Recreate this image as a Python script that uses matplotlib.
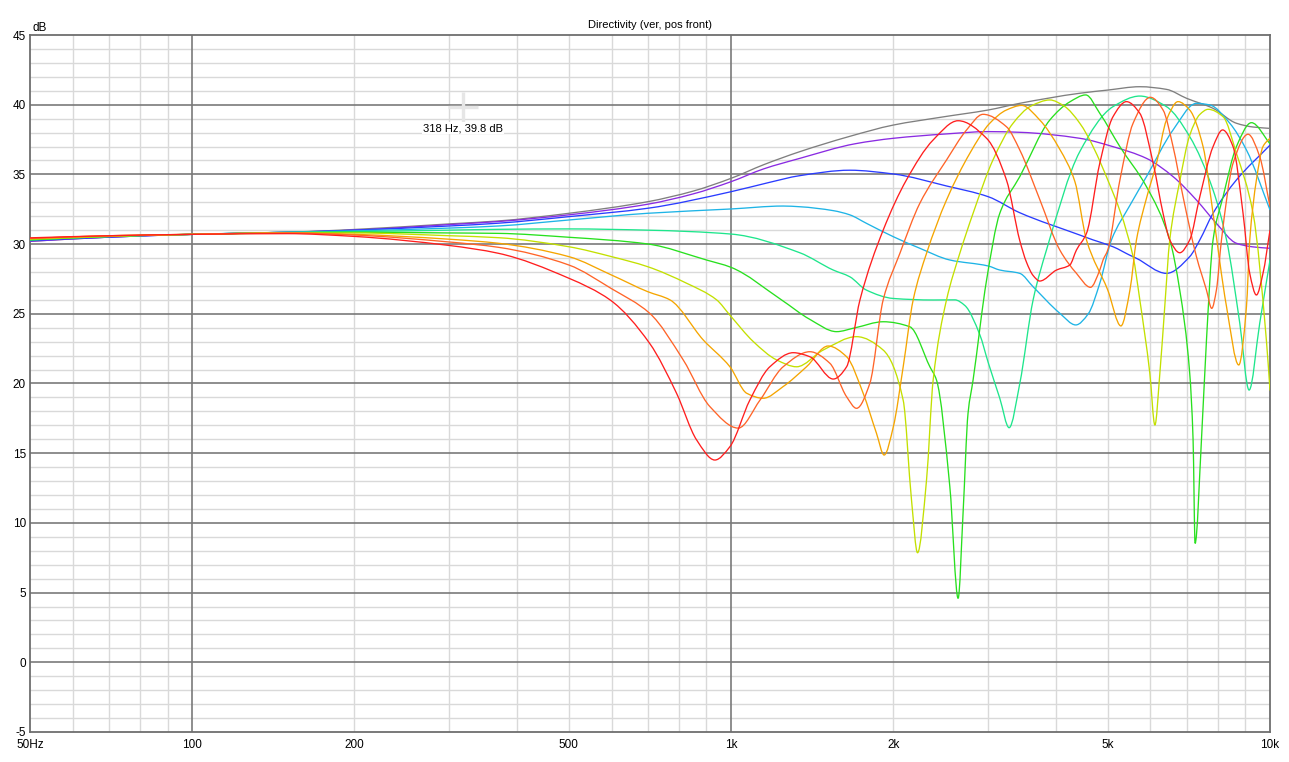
import numpy as np
import matplotlib
matplotlib.use("Agg")
import matplotlib.pyplot as plt
from matplotlib.path import Path
from matplotlib.patches import PathPatch

plt.rcParams['font.family'] = ['Liberation Sans', 'DejaVu Sans']
plt.rcParams['axes.unicode_minus'] = False

# curve data: frequency (Hz) / level (dB), one pair per angle
gray_f = [50, 70, 100, 150, 200, 300, 370, 500, 700, 850, 1000, 1150, 1341, 1650, 2000, 2450, 3000, 3433, 4436, 5000, 5734, 6425, 7000, 7840, 8663, 9300, 10000]
gray_db = [30.2, 30.5, 30.7, 30.85, 31.05, 31.45, 31.66, 32.21, 33.04, 33.8, 34.72, 35.7, 36.63, 37.7, 38.54, 39.1, 39.62, 40.1, 40.82, 41.05, 41.29, 41.1, 40.46, 39.74, 38.67, 38.4, 38.3]

purple_f = [50, 70, 100, 150, 200, 300, 370, 500, 700, 850, 1000, 1150, 1341, 1700, 2000, 2500, 3000, 3433, 4436, 5113, 5899, 6609, 7303, 7953, 8663, 9300, 10000]
purple_db = [30.2, 30.5, 30.7, 30.85, 31.0, 31.4, 31.62, 32.1, 32.86, 33.6, 34.48, 35.4, 36.15, 37.2, 37.59, 37.9, 38.07, 38.02, 37.59, 36.99, 36.15, 34.84, 33.16, 31.49, 30.06, 29.8, 29.7]

blue_f = [50, 70, 100, 150, 200, 300, 370, 500, 700, 1000, 1170, 1341, 1660, 2000, 2510, 3000, 3433, 4436, 4696, 5113, 5496, 5652, 6425, 7096, 7409, 7840, 8663, 10000]
blue_db = [30.25, 30.5, 30.7, 30.85, 31.0, 31.3, 31.5, 31.97, 32.57, 33.76, 34.4, 34.91, 35.3, 35.03, 34.17, 33.4, 32.25, 30.65, 30.3, 29.81, 29.2, 28.98, 27.9, 29.1, 30.3, 32.21, 34.6, 37.1]

cyan_f = [50, 70, 100, 150, 200, 300, 370, 500, 700, 1000, 1249, 1341, 1547, 1660, 1783, 2000, 2240, 2546, 3000, 3152, 3433, 3634, 4073, 4361, 4600, 4832, 5079, 5500, 5899, 6609, 7303, 7732, 8421, 9043, 10000]
cyan_db = [30.3, 30.55, 30.7, 30.85, 30.95, 31.15, 31.3, 31.73, 32.21, 32.52, 32.73, 32.68, 32.4, 32.1, 31.49, 30.53, 29.7, 28.86, 28.43, 28.14, 27.9, 26.94, 25.04, 24.2, 25.0, 27.19, 30.3, 32.8, 34.84, 38.19, 40.1, 39.98, 38.67, 36.75, 32.45]

teal_f = [50, 70, 100, 150, 200, 300, 370, 500, 700, 1000, 1341, 1547, 1660, 1783, 2000, 2371, 2601, 2714, 2894, 3000, 3152, 3280, 3433, 3634, 3848, 4436, 5113, 5734, 6425, 7096, 7840, 8305, 8789, 9145, 9570, 10000]
teal_db = [30.3, 30.55, 30.7, 30.85, 30.9, 31.0, 31.06, 31.09, 31.0, 30.72, 29.38, 28.14, 27.66, 26.7, 26.1, 25.99, 26.0, 25.6, 23.5, 21.5, 18.94, 16.83, 20.0, 25.99, 29.58, 36.63, 39.86, 40.62, 39.86, 37.71, 33.88, 30.3, 24.32, 19.53, 24.32, 28.86]

green_f = [50, 70, 100, 150, 200, 300, 370, 500, 700, 900, 1000, 1240, 1400, 1569, 1700, 1915, 2146, 2338, 2405, 2546, 2638, 2694, 2752, 2812, 2979, 3152, 3433, 3903, 4250, 4551, 4832, 5266, 5899, 6516, 6800, 7096, 7199, 7261, 7461, 7623, 7840, 8184, 8663, 9238, 10000]
green_db = [30.3, 30.55, 30.7, 30.8, 30.85, 30.8, 30.77, 30.49, 30.01, 28.86, 28.33, 26.0, 24.6, 23.72, 24.0, 24.43, 24.07, 21.2, 20.25, 12.6, 4.59, 10.68, 17.86, 20.25, 27.42, 32.21, 34.84, 38.9, 40.2, 40.7, 39.38, 36.99, 34.12, 30.3, 26.7, 20.73, 15.95, 8.53, 15.95, 23.12, 30.3, 33.4, 36.99, 38.71, 37.2]

yg_f = [50, 70, 100, 150, 200, 300, 370, 500, 600, 700, 827, 940, 995, 1100, 1215, 1323, 1482, 1709, 1915, 2086, 2162, 2218, 2305, 2371, 2510, 2657, 2812, 3061, 3336, 3600, 3903, 4150, 4436, 5000, 5571, 5734, 5984, 6115, 6246, 6378, 6516, 6800, 7096, 7409, 7677, 8184, 8663, 9301, 9846, 10000]
yg_db = [30.35, 30.55, 30.7, 30.8, 30.8, 30.6, 30.46, 29.81, 29.1, 28.38, 27.19, 26.0, 24.9, 23.0, 21.69, 21.2, 22.4, 23.36, 22.4, 18.8, 11.6, 7.86, 13.1, 20.25, 25.99, 29.34, 32.21, 36.03, 38.67, 39.9, 40.34, 39.9, 38.67, 34.6, 29.1, 25.99, 20.73, 17.02, 20.73, 25.51, 30.3, 34.5, 37.8, 39.3, 39.67, 39.14, 36.51, 32.21, 23.12, 19.5]

amber_f = [50, 70, 100, 150, 200, 300, 370, 500, 600, 700, 770, 888, 995, 1069, 1147, 1249, 1380, 1514, 1638, 1758, 1861, 1923, 2000, 2086, 2177, 2305, 2510, 2773, 3020, 3243, 3461, 3739, 4073, 4343, 4565, 5000, 5289, 5496, 5652, 5900, 6157, 6425, 6751, 7096, 7513, 7840, 8305, 8750, 9043, 9171, 9436, 9705, 10000]
amber_db = [30.4, 30.6, 30.7, 30.8, 30.7, 30.35, 30.06, 29.1, 27.78, 26.59, 26.0, 23.12, 21.2, 19.3, 18.94, 19.78, 21.2, 22.69, 21.92, 19.3, 16.43, 14.87, 16.9, 21.2, 26.0, 29.34, 33.16, 36.51, 38.67, 39.62, 39.95, 38.9, 36.8, 34.5, 30.3, 26.7, 24.13, 26.7, 30.3, 33.3, 35.8, 38.9, 40.22, 39.62, 36.99, 32.21, 25.51, 21.33, 25.51, 30.3, 34.6, 37.0, 37.6]

orange_f = [50, 70, 100, 150, 200, 300, 370, 500, 600, 706, 815, 913, 1031, 1131, 1249, 1400, 1525, 1638, 1709, 1809, 1915, 2057, 2240, 2510, 2734, 2934, 3243, 3433, 3739, 4073, 4374, 4644, 4832, 4900, 5000, 5266, 5571, 6000, 6332, 6609, 6897, 7303, 7623, 7796, 7953, 8127, 8540, 9105, 9570, 10000]
orange_db = [30.4, 30.6, 30.7, 30.8, 30.65, 30.15, 29.77, 28.5, 26.8, 25.04, 21.69, 18.35, 16.8, 18.8, 21.2, 22.28, 21.45, 19.05, 18.22, 20.01, 26.0, 29.34, 32.93, 36.03, 38.18, 39.31, 38.42, 36.75, 33.2, 29.58, 27.9, 26.9, 28.14, 28.86, 29.58, 34.6, 38.67, 40.53, 39.62, 36.99, 33.4, 29.1, 26.7, 25.39, 26.7, 30.3, 35.8, 37.88, 36.27, 32.69]

red_f = [50, 70, 100, 150, 200, 300, 370, 500, 596, 706, 792, 863, 933, 995, 1083, 1180, 1304, 1400, 1547, 1638, 1734, 1915, 2115, 2371, 2638, 2979, 3243, 3433, 3533, 3634, 3739, 4016, 4251, 4374, 4565, 4832, 5113, 5415, 5734, 6070, 6332, 6516, 6800, 7096, 7409, 7840, 8168, 8540, 8912, 9171, 9436, 9705, 10000]
red_db = [30.45, 30.6, 30.7, 30.75, 30.55, 29.9, 29.34, 27.55, 26.0, 22.88, 19.3, 15.95, 14.51, 15.47, 18.8, 21.2, 22.21, 21.92, 20.32, 21.2, 25.99, 31.0, 34.6, 37.47, 38.85, 37.59, 34.6, 30.25, 28.7, 27.75, 27.35, 28.14, 28.5, 29.58, 30.77, 35.8, 39.14, 40.22, 39.38, 35.8, 32.21, 30.3, 29.38, 30.3, 33.4, 36.99, 38.19, 36.99, 32.21, 27.9, 26.35, 27.9, 31.0]

curves = [
    (gray_f, gray_db, '#7f7f7f'),
    (purple_f, purple_db, '#8a2be2'),
    (blue_f, blue_db, '#2a3cff'),
    (cyan_f, cyan_db, '#1eb4e6'),
    (teal_f, teal_db, '#1ee68c'),
    (green_f, green_db, '#28e01e'),
    (yg_f, yg_db, '#c3e000'),
    (amber_f, amber_db, '#f5a500'),
    (orange_f, orange_db, '#ff6428'),
    (red_f, red_db, '#ff1e1e'),
]

x_ticks = [50, 100, 200, 500, 1000, 2000, 5000, 10000]
x_labels = ['50Hz', '100', '200', '500', '1k', '2k', '5k', '10k']
y_ticks = list(range(-5, 50, 5))

cursor_f, cursor_db = 318, 39.8


def smooth_path(f, db):
    # monotone cubic (Fritsch-Carlson) through the read points, as Bezier segments in log-f space
    u = np.log10(np.asarray(f, float))
    y = np.asarray(db, float)
    h = np.diff(u)
    d = np.diff(y) / h
    m = np.zeros_like(y)
    m[0], m[-1] = d[0], d[-1]
    for i in range(1, len(y) - 1):
        if d[i - 1] * d[i] > 0:
            w1 = 2 * h[i] + h[i - 1]
            w2 = h[i] + 2 * h[i - 1]
            m[i] = (w1 + w2) / (w1 / d[i - 1] + w2 / d[i])
    verts = [(u[0], y[0])]
    codes = [Path.MOVETO]
    for i in range(len(h)):
        verts += [(u[i] + h[i] / 3, y[i] + m[i] * h[i] / 3),
                  (u[i + 1] - h[i] / 3, y[i + 1] - m[i + 1] * h[i] / 3),
                  (u[i + 1], y[i + 1])]
        codes += [Path.CURVE4] * 3
    verts = np.array(verts)
    verts[:, 0] = 10 ** verts[:, 0]
    return Path(verts, codes)


fig = plt.figure(figsize=(12.89, 7.62), dpi=100)
ax = fig.add_axes([30 / 1289, 30 / 762, 1240 / 1289, 697 / 762])
ax.set_xscale('log')
ax.set_xlim(50, 10000)
ax.set_ylim(-5, 45)

# grid: light lines every dB / every decade step, dark ones at 5 dB and 100/1k
minor_x = [60, 70, 80, 90] + [k * 100 for k in range(2, 10)] + [k * 1000 for k in range(2, 10)]
for f in minor_x:
    ax.axvline(f, color='#d9d9d9', lw=1.0, zorder=0)
for v in range(-4, 45):
    if v % 5:
        ax.axhline(v, color='#d9d9d9', lw=1.0, zorder=0)
for f in [100, 1000]:
    ax.axvline(f, color='#7a7a7a', lw=1.2, zorder=1)
for v in y_ticks[1:-1]:
    ax.axhline(v, color='#7a7a7a', lw=1.2, zorder=1)

for f, db, c in curves:
    ax.add_patch(PathPatch(smooth_path(f, db), fill=False, edgecolor=c, lw=0.95, zorder=3))

ax.plot([cursor_f], [cursor_db], marker='+', ms=21, mew=2.4, color='#e6e6e6', zorder=4)
ax.annotate('318 Hz, 39.8 dB', (cursor_f, cursor_db), xytext=(0, -15),
            textcoords='offset points', ha='center', va='center', fontsize=8,
            bbox=dict(boxstyle='square,pad=0.1', fc='white', ec='none'), zorder=5)

ax.set_xticks(x_ticks)
ax.set_xticklabels(x_labels)
ax.xaxis.set_minor_locator(matplotlib.ticker.NullLocator())
ax.set_yticks(y_ticks)
ax.tick_params(length=0, labelsize=8.5)
ax.tick_params(axis='x', pad=5)
ax.tick_params(axis='y', pad=3)
for s in ax.spines.values():
    s.set_color('#6e6e6e')
    s.set_linewidth(1.3)

ax.text(0.002, 1.002, 'dB', transform=ax.transAxes, ha='left', va='bottom', fontsize=8.5)
fig.text(650 / 1289, 1 - 25 / 762, 'Directivity (ver, pos front)', ha='center', va='center', fontsize=8)

fig.savefig('out.png', dpi=100)
